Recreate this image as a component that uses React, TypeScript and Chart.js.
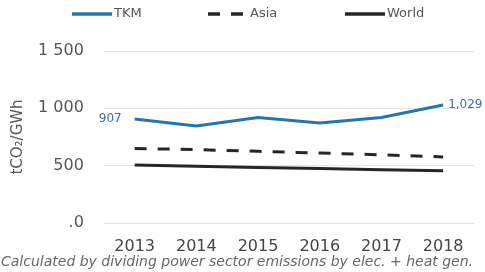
import React, { useEffect, useRef } from "react";
import { Chart, registerables } from "chart.js";

Chart.register(...registerables);

const years = ["2013", "2014", "2015", "2016", "2017", "2018"];
const tkm = [907, 845, 921, 872, 921, 1029];
const asia = [650, 640, 625, 610, 595, 576];
const world = [505, 495, 485, 475, 465, 455];
const yTickLabels: Record<number, string> = { 0: ".0", 500: "500", 1000: "1 000", 1500: "1 500" };
const seriesNames = ["TKM", "Asia", "World"];
const footnote = "Calculated by dividing power sector emissions by elec. + heat gen.";
const yTitle = "tCO₂/GWh";

const FONT = "'DejaVu Sans', sans-serif";
const BLUE = "#2278a8";
const DARK = "#262626";

const legendPlugin = {
  id: "customLegend",
  afterDraw(chart: any) {
    const ctx = chart.ctx;
    const starts = [72, 208, 345];
    const y = 14;
    ctx.save();
    chart.data.datasets.forEach((ds: any, i: number) => {
      const x = starts[i];
      ctx.beginPath();
      ctx.strokeStyle = ds.borderColor;
      ctx.lineWidth = 3.5;
      ctx.setLineDash(ds.borderDash || []);
      ctx.moveTo(x, y);
      ctx.lineTo(x + 40, y);
      ctx.stroke();
      ctx.setLineDash([]);
      ctx.fillStyle = "#555";
      ctx.font = `13px ${FONT}`;
      ctx.textBaseline = "middle";
      ctx.textAlign = "left";
      ctx.fillText(ds.label, x + 42, y);
    });
    ctx.restore();
  },
};

const endLabelPlugin = {
  id: "endLabels",
  afterDatasetsDraw(chart: any) {
    const ctx = chart.ctx;
    const meta = chart.getDatasetMeta(0);
    const data = chart.data.datasets[0].data as number[];
    const first = meta.data[0];
    const last = meta.data[meta.data.length - 1];
    ctx.save();
    ctx.fillStyle = "#3f6d9c";
    ctx.font = `12px ${FONT}`;
    ctx.textBaseline = "middle";
    ctx.textAlign = "right";
    ctx.fillText(data[0].toLocaleString("en-US"), first.x - 13, first.y);
    ctx.textAlign = "left";
    ctx.fillText(data[data.length - 1].toLocaleString("en-US"), last.x + 5, last.y);
    ctx.restore();
  },
};

export default function App() {
  const ref = useRef<HTMLCanvasElement>(null);
  useEffect(() => {
    document.body.style.margin = "0";
    const chart = new Chart(ref.current!, {
      type: "line",
      data: {
        labels: years,
        datasets: [
          { label: seriesNames[0], data: tkm, borderColor: BLUE, borderWidth: 3, pointRadius: 0, tension: 0 },
          { label: seriesNames[1], data: asia, borderColor: DARK, borderWidth: 3, borderDash: [12, 11], pointRadius: 0 },
          { label: seriesNames[2], data: world, borderColor: DARK, borderWidth: 3, pointRadius: 0 },
        ],
      },
      options: {
        animation: false,
        responsive: true,
        maintainAspectRatio: false,
        layout: { padding: { left: 0, right: 11, top: 51, bottom: 0 } },
        scales: {
          x: {
            offset: true,
            grid: { display: false },
            border: { display: false },
            ticks: { font: { family: FONT, size: 16 }, color: "#444", padding: 6 },
          },
          y: {
            min: 0,
            max: 1500,
            border: { display: false },
            grid: { color: "#e4e4e4", drawTicks: false },
            ticks: {
              stepSize: 500,
              padding: 20,
              font: { family: FONT, size: 16 },
              color: "#555",
              callback: (v: any) => yTickLabels[v as number] ?? String(v),
            },
            title: {
              display: true,
              text: yTitle,
              font: { family: FONT, size: 15 },
              color: "#555",
              padding: { top: 9, bottom: -9 },
            },
          },
        },
        plugins: {
          legend: { display: false },
          tooltip: { enabled: false },
          title: {
            display: true,
            position: "bottom",
            text: footnote,
            color: "#666",
            font: { family: FONT, size: 14, style: "italic", weight: "normal" },
            padding: { top: -8, bottom: 1 },
          },
        },
      },
      plugins: [legendPlugin, endLabelPlugin],
    });
    return () => chart.destroy();
  }, []);
  return (
    <div style={{ width: 485, height: 272, position: "relative" }}>
      <canvas ref={ref} />
    </div>
  );
}
